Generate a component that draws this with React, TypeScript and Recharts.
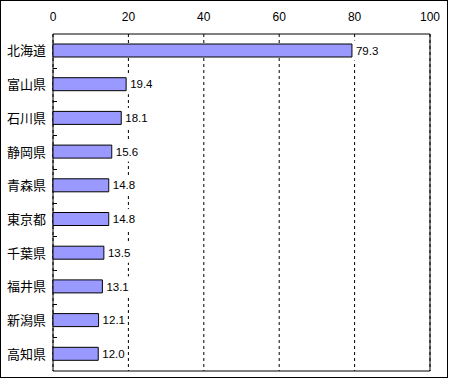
import React from 'react';
import * as R from 'recharts';
import { BarChart, Bar, XAxis, YAxis, CartesianGrid, LabelList, ReferenceArea } from 'recharts';

const prefectures = ['北海道', '富山県', '石川県', '静岡県', '青森県', '東京都', '千葉県', '福井県', '新潟県', '高知県'];
const values = [79.3, 19.4, 18.1, 15.6, 14.8, 14.8, 13.5, 13.1, 12.1, 12.0];
const xTicks = [0, 20, 40, 60, 80, 100];

const data = prefectures.map((name, i) => ({ name, value: values[i] }));

const numFont = '"Liberation Sans", Arial, "Noto Sans CJK JP", sans-serif';
const jpFont = '"Noto Sans CJK JP", sans-serif';

const anyR = R as any;
const usePlot: () => any = anyR.usePlotArea || (() => null);

function BoundaryTicks({ count }: { count: number }) {
  const area = usePlot();
  if (!area) return null;
  const step = area.height / count;
  const lines = [];
  for (let i = 1; i < count; i++) {
    const y = Math.round(area.y + step * i) + 0.5;
    lines.push(<line key={i} x1={area.x} x2={area.x + 4} y1={y} y2={y} stroke="#000" strokeWidth={1} />);
  }
  return <g>{lines}</g>;
}

function ValueLabel(props: any) {
  const { x, y, width, height, value } = props;
  const tx = x + width + 4;
  const cy = y + height / 2;
  const text = Number(value).toFixed(1);
  return (
    <g>
      <rect x={x + width + 1} y={cy - 10} width={26} height={20} fill="#fff" />
      <text x={tx} y={cy} dy="0.36em" fill="#000" fontSize={11.5} fontFamily={numFont}>
        {text}
      </text>
    </g>
  );
}

export default function App() {
  return (
    <div
      style={{
        position: 'absolute',
        left: 0,
        top: 0,
        width: 448,
        height: 378,
        boxSizing: 'border-box',
        border: '1px solid #000',
        background: '#fff',
      }}
    >
      <div style={{ position: 'absolute', left: -1, top: -1 }}>
        <BarChart
          width={448}
          height={378}
          data={data}
          layout="vertical"
          margin={{ top: 0, right: 18, bottom: 7, left: 0 }}
        >
          <CartesianGrid horizontal={false} stroke="#000" strokeDasharray="3 3" />
          <XAxis
            type="number"
            orientation="top"
            domain={[0, 100]}
            ticks={xTicks}
            axisLine={false}
            tickLine={false}
            tickSize={6}
            tickMargin={7}
            height={34}
            tick={{ fill: '#000', fontSize: 12, fontFamily: numFont }}
          />
          <YAxis
            type="category"
            dataKey="name"
            width={53}
            axisLine={false}
            tickLine={false}
            tickSize={4}
            tickMargin={3}
            tick={{ fill: '#000', fontSize: 13, fontFamily: jpFont }}
          />
          <Bar dataKey="value" fill="#9999FF" stroke="#000" strokeWidth={1} barSize={13} isAnimationActive={false}>
            <LabelList dataKey="value" content={<ValueLabel />} />
          </Bar>
          <ReferenceArea x1={0} x2={100} fill="none" stroke="#000" strokeWidth={1} fillOpacity={0} />
          <BoundaryTicks count={data.length} />
        </BarChart>
      </div>
    </div>
  );
}
